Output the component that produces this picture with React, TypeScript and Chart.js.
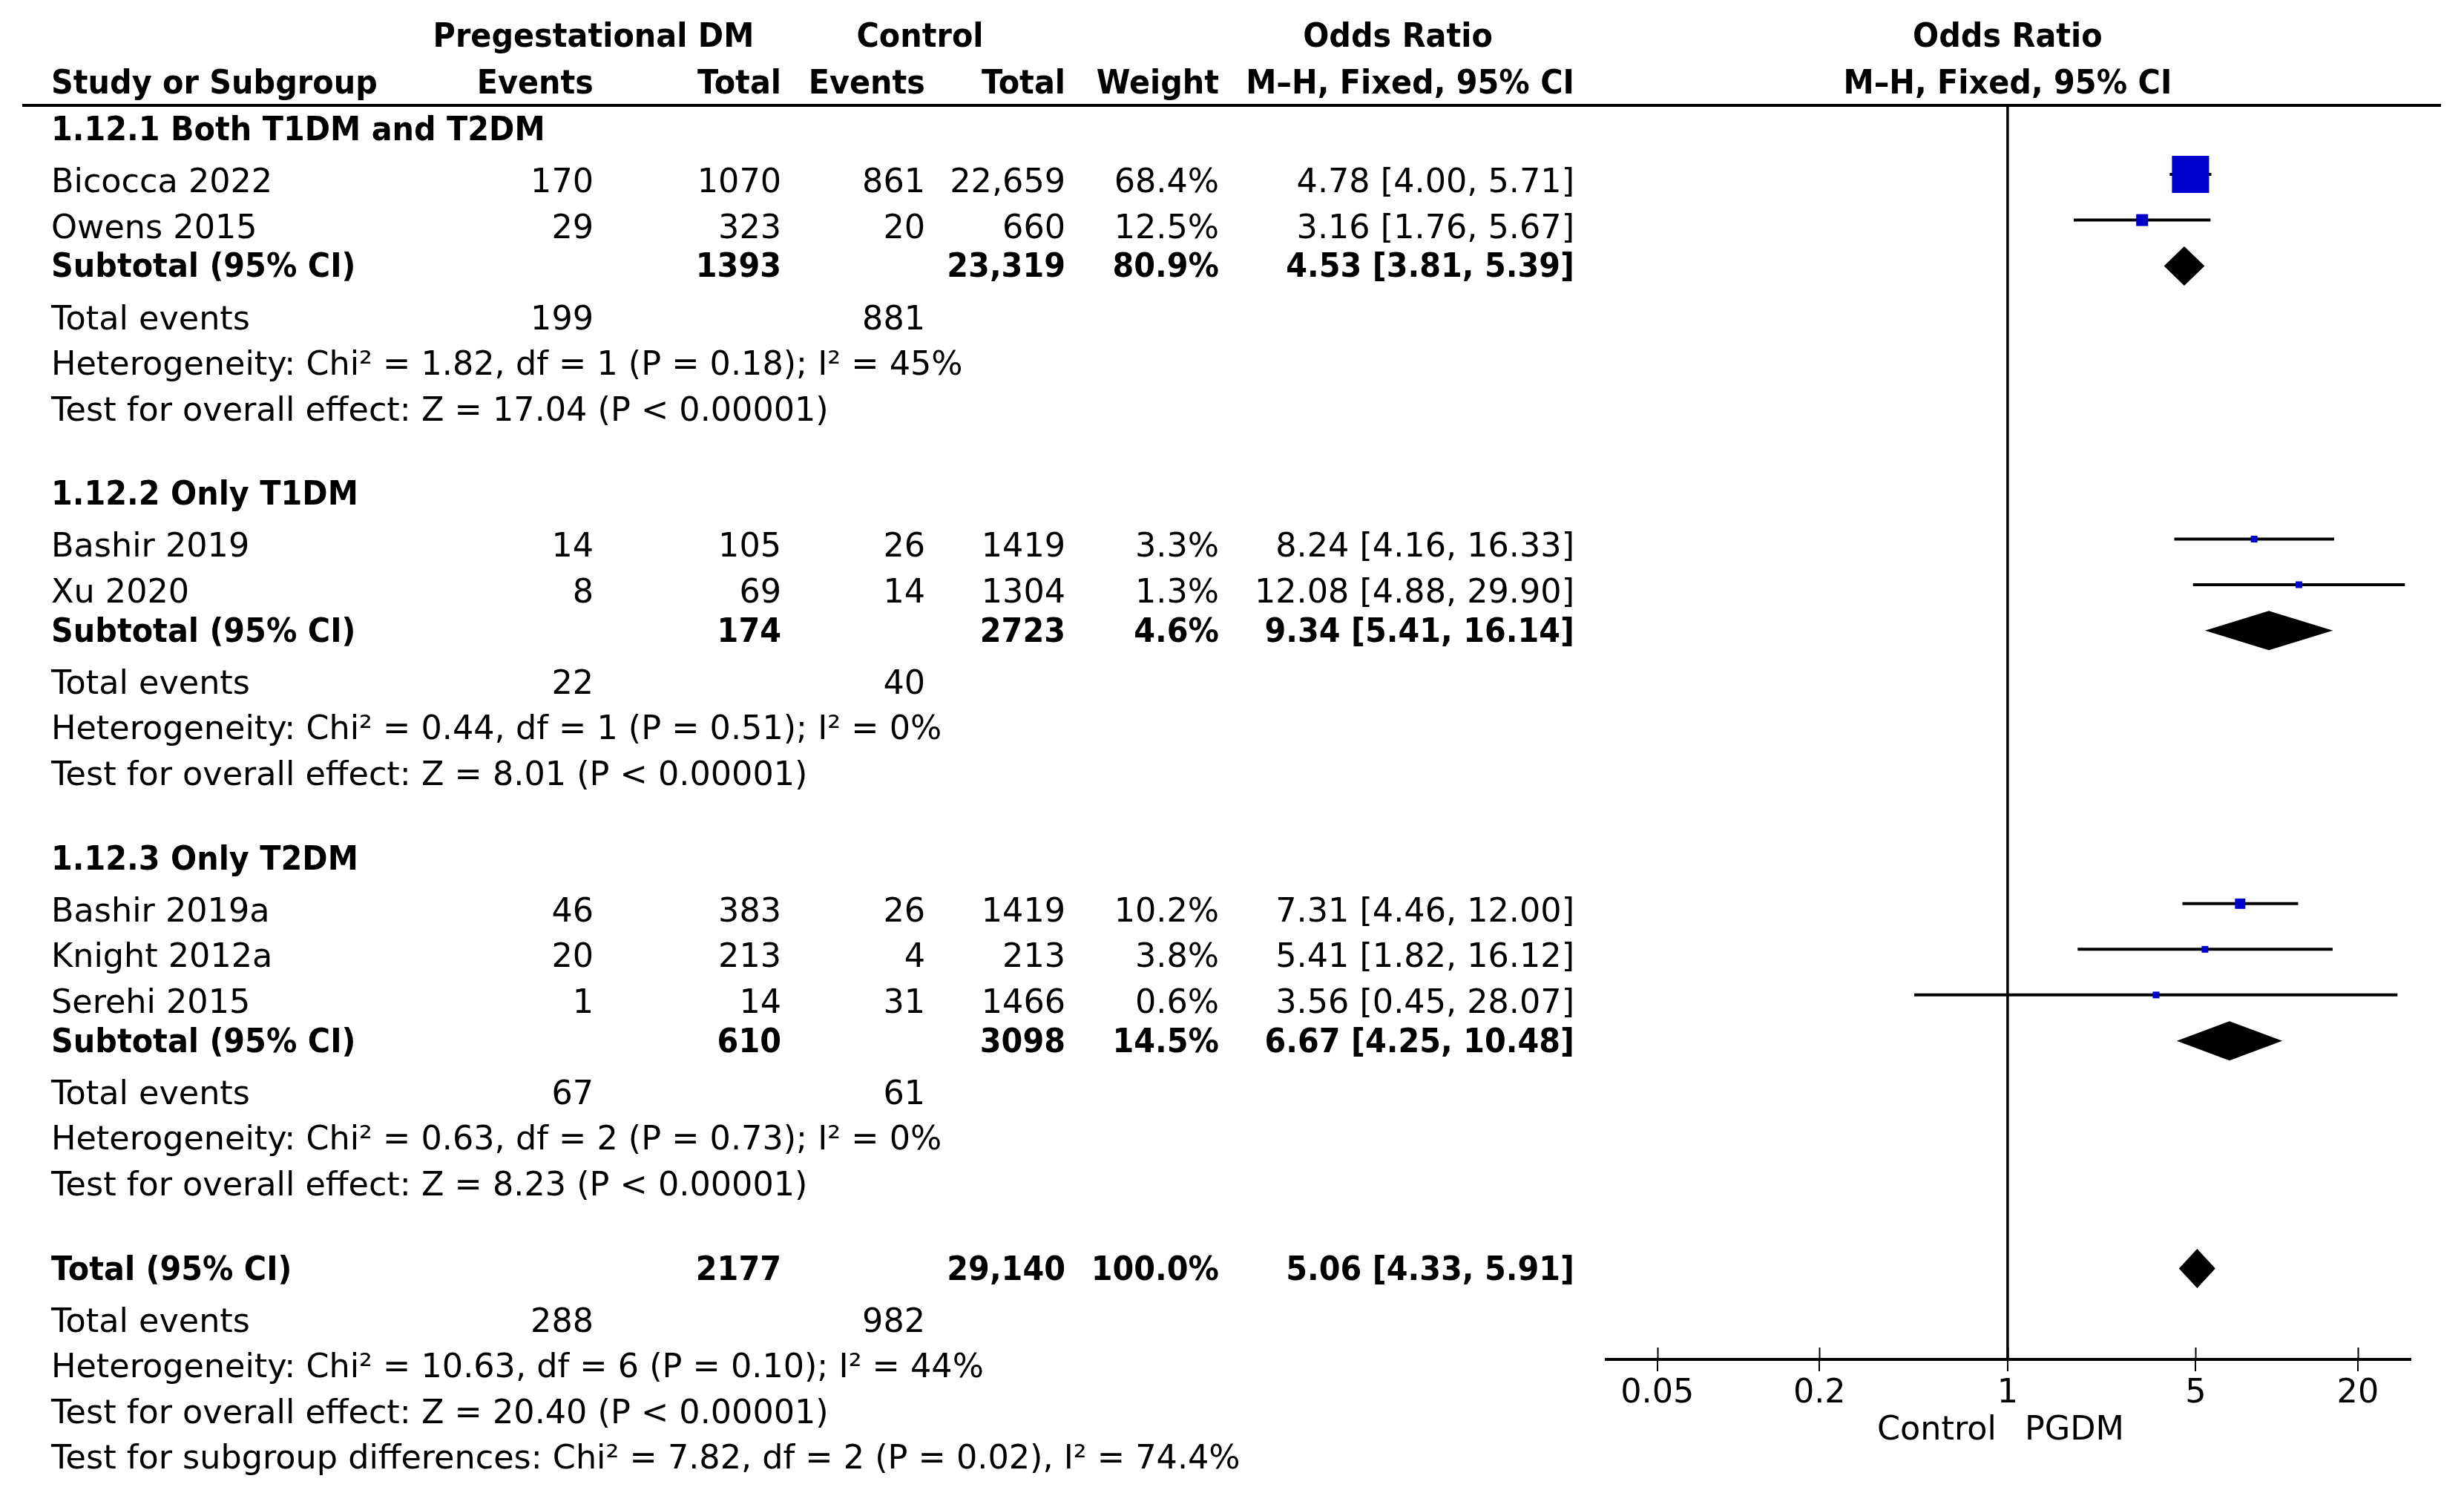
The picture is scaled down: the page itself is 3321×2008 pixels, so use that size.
import React, { useEffect, useRef } from "react";
import { Chart, registerables } from "chart.js";

Chart.register(...registerables);

// ---------------- data ----------------
const groupNames = ["1.12.1 Both T1DM and T2DM", "1.12.2 Only T1DM", "1.12.3 Only T2DM"];

const studyNames = ["Bicocca 2022", "Owens 2015", "Bashir 2019", "Xu 2020", "Bashir 2019a", "Knight 2012a", "Serehi 2015"];
const studyGroup = [0, 0, 1, 1, 2, 2, 2];
const pgdmEvents = [170, 29, 14, 8, 46, 20, 1];
const pgdmTotal = [1070, 323, 105, 69, 383, 213, 14];
const ctrlEvents = [861, 20, 26, 14, 26, 4, 31];
const ctrlTotal = [22659, 660, 1419, 1304, 1419, 213, 1466];
const studyWeight = [68.4, 12.5, 3.3, 1.3, 10.2, 3.8, 0.6];
const studyOR = [4.78, 3.16, 8.24, 12.08, 7.31, 5.41, 3.56];
const studyLo = [4.0, 1.76, 4.16, 4.88, 4.46, 1.82, 0.45];
const studyHi = [5.71, 5.67, 16.33, 29.9, 12.0, 16.12, 28.07];

const subPgdmTotal = [1393, 174, 610];
const subCtrlTotal = [23319, 2723, 3098];
const subWeight = [80.9, 4.6, 14.5];
const subOR = [4.53, 9.34, 6.67];
const subLo = [3.81, 5.41, 4.25];
const subHi = [5.39, 16.14, 10.48];
const subPgdmEvents = [199, 22, 67];
const subCtrlEvents = [881, 40, 61];
const subHet = [
  "Heterogeneity: Chi² = 1.82, df = 1 (P = 0.18); I² = 45%",
  "Heterogeneity: Chi² = 0.44, df = 1 (P = 0.51); I² = 0%",
  "Heterogeneity: Chi² = 0.63, df = 2 (P = 0.73); I² = 0%",
];
const subTest = [
  "Test for overall effect: Z = 17.04 (P < 0.00001)",
  "Test for overall effect: Z = 8.01 (P < 0.00001)",
  "Test for overall effect: Z = 8.23 (P < 0.00001)",
];

const totalPgdm = 2177;
const totalCtrl = 29140;
const totalWeight = 100.0;
const totalOR = 5.06;
const totalLo = 4.33;
const totalHi = 5.91;
const totalPgdmEvents = 288;
const totalCtrlEvents = 982;
const totalHet = "Heterogeneity: Chi² = 10.63, df = 6 (P = 0.10); I² = 44%";
const totalTest = "Test for overall effect: Z = 20.40 (P < 0.00001)";
const subgroupTest = "Test for subgroup differences: Chi² = 7.82, df = 2 (P = 0.02), I² = 74.4%";

const xTicks = [0.05, 0.2, 1, 5, 20];
const AXIS_MIN = 0.0323;
const AXIS_MAX = 31.4;

// ---------------- layout ----------------
const FONT = "'DejaVu Sans', sans-serif";
const FS = 44.5;
const BOLD_SX = 0.93;
const W = 3321;
const H = 2008;
const TOP = 142;
const BOTTOM = 1832;
const PLOT_LEFT = 2165;
const PLOT_RIGHT = 3249;
const Y_MAX = 27.48;
const PX_PER_UNIT = (BOTTOM - TOP) / Y_MAX;
const SQ_OFF = 24 / PX_PER_UNIT;
const DIA_OFF = 15 / PX_PER_UNIT;

const COL_NAME = 69;
const COL_EV1 = 800;
const COL_TOT1 = 1053;
const COL_EV2 = 1247;
const COL_TOT2 = 1436;
const COL_WT = 1643;
const COL_OR = 2122;

type Row = { kind: string; idx: number; pos: number };

function gapBetween(prev: string, cur: string): number {
  if (cur === "study") return prev === "group" ? 1.14 : 1;
  if (cur === "subtotal") return 0.86;
  if (cur === "events") return 1.14;
  if (cur === "group" || cur === "total") return 1.85;
  return 1;
}

function buildRows(): Row[] {
  const list: { kind: string; idx: number }[] = [];
  groupNames.forEach((_, g) => {
    list.push({ kind: "group", idx: g });
    studyNames.forEach((_, i) => {
      if (studyGroup[i] === g) list.push({ kind: "study", idx: i });
    });
    list.push({ kind: "subtotal", idx: g });
    list.push({ kind: "events", idx: g });
    list.push({ kind: "het", idx: g });
    list.push({ kind: "test", idx: g });
  });
  list.push({ kind: "total", idx: -1 });
  list.push({ kind: "events", idx: -1 });
  list.push({ kind: "het", idx: -1 });
  list.push({ kind: "test", idx: -1 });
  list.push({ kind: "subgroup", idx: -1 });
  const rows: Row[] = [];
  let pos = 0.764;
  list.forEach((r, k) => {
    if (k > 0) pos += gapBetween(list[k - 1].kind, r.kind);
    rows.push({ ...r, pos });
  });
  return rows;
}

const ROWS = buildRows();

const fmtN = (n: number) => (n >= 10000 ? n.toLocaleString("en-US") : String(n));
const fmtOR = (e: number, l: number, h: number) => `${e.toFixed(2)} [${l.toFixed(2)}, ${h.toFixed(2)}]`;
const fmtW = (w: number) => `${w.toFixed(1)}%`;
const squareSide = (w: number) => Math.max(9, 2.95 * Math.pow(w, 0.67));

function txt(ctx: CanvasRenderingContext2D, s: string, x: number, y: number, align: CanvasTextAlign, bold = false) {
  ctx.save();
  ctx.font = `${bold ? "bold " : ""}${FS}px ${FONT}`;
  ctx.textAlign = align;
  ctx.textBaseline = "alphabetic";
  ctx.fillStyle = "#000";
  ctx.translate(x, y);
  if (bold) ctx.scale(BOLD_SX, 1);
  ctx.fillText(s, 0, 0);
  ctx.restore();
}

const forestPlugin = {
  id: "forestPlugin",
  beforeDatasetsDraw(chart: any) {
    const { ctx, chartArea, scales } = chart;
    const x1 = scales.x.getPixelForValue(1);
    ctx.save();
    ctx.strokeStyle = "#000";
    ctx.lineWidth = 3.5;
    ctx.beginPath();
    ctx.moveTo(x1, chartArea.top);
    ctx.lineTo(x1, chartArea.bottom);
    ctx.stroke();
    ctx.restore();
  },
  afterDatasetsDraw(chart: any) {
    const { ctx, scales } = chart;
    const xs = scales.x;
    const ys = scales.y;
    const diamond = (e: number, l: number, h: number, pos: number) => {
      const y = ys.getPixelForValue(pos - DIA_OFF);
      const hh = 26.5;
      ctx.beginPath();
      ctx.moveTo(xs.getPixelForValue(l), y);
      ctx.lineTo(xs.getPixelForValue(e), y - hh);
      ctx.lineTo(xs.getPixelForValue(h), y);
      ctx.lineTo(xs.getPixelForValue(e), y + hh);
      ctx.closePath();
      ctx.fill();
    };
    ctx.save();
    ctx.fillStyle = "#000";
    ROWS.forEach((r) => {
      if (r.kind === "subtotal") diamond(subOR[r.idx], subLo[r.idx], subHi[r.idx], r.pos);
      if (r.kind === "total") diamond(totalOR, totalLo, totalHi, r.pos);
    });
    ctx.restore();
  },
  afterDraw(chart: any) {
    const { ctx, chartArea, scales } = chart;
    const ys = scales.y;
    const xs = scales.x;
    ctx.save();
    // header rule
    ctx.strokeStyle = "#000";
    ctx.lineWidth = 4;
    ctx.beginPath();
    ctx.moveTo(30, TOP);
    ctx.lineTo(3290, TOP);
    ctx.stroke();
    // upper halves of tick marks
    ctx.lineWidth = 2;
    xTicks.forEach((v) => {
      const px = Math.round(xs.getPixelForValue(v)) + 0.5;
      ctx.beginPath();
      ctx.moveTo(px, chartArea.bottom - 16);
      ctx.lineTo(px, chartArea.bottom);
      ctx.stroke();
    });
    // headers
    const x1 = xs.getPixelForValue(1);
    txt(ctx, "Pregestational DM", 800, 63, "center", true);
    txt(ctx, "Control", 1240, 63, "center", true);
    txt(ctx, "Odds Ratio", 1884, 63, "center", true);
    txt(ctx, "Odds Ratio", x1, 63, "center", true);
    txt(ctx, "Study or Subgroup", COL_NAME, 126, "left", true);
    txt(ctx, "Events", COL_EV1, 126, "right", true);
    txt(ctx, "Total", COL_TOT1, 126, "right", true);
    txt(ctx, "Events", COL_EV2, 126, "right", true);
    txt(ctx, "Total", COL_TOT2, 126, "right", true);
    txt(ctx, "Weight", COL_WT, 126, "right", true);
    txt(ctx, "M–H, Fixed, 95% CI", COL_OR, 126, "right", true);
    txt(ctx, "M–H, Fixed, 95% CI", x1, 126, "center", true);
    // rows
    ROWS.forEach((r) => {
      const y = ys.getPixelForValue(r.pos);
      const i = r.idx;
      switch (r.kind) {
        case "group":
          txt(ctx, groupNames[i], COL_NAME, y, "left", true);
          break;
        case "study":
          txt(ctx, studyNames[i], COL_NAME, y, "left");
          txt(ctx, fmtN(pgdmEvents[i]), COL_EV1, y, "right");
          txt(ctx, fmtN(pgdmTotal[i]), COL_TOT1, y, "right");
          txt(ctx, fmtN(ctrlEvents[i]), COL_EV2, y, "right");
          txt(ctx, fmtN(ctrlTotal[i]), COL_TOT2, y, "right");
          txt(ctx, fmtW(studyWeight[i]), COL_WT, y, "right");
          txt(ctx, fmtOR(studyOR[i], studyLo[i], studyHi[i]), COL_OR, y, "right");
          break;
        case "subtotal":
          txt(ctx, "Subtotal (95% CI)", COL_NAME, y, "left", true);
          txt(ctx, fmtN(subPgdmTotal[i]), COL_TOT1, y, "right", true);
          txt(ctx, fmtN(subCtrlTotal[i]), COL_TOT2, y, "right", true);
          txt(ctx, fmtW(subWeight[i]), COL_WT, y, "right", true);
          txt(ctx, fmtOR(subOR[i], subLo[i], subHi[i]), COL_OR, y, "right", true);
          break;
        case "total":
          txt(ctx, "Total (95% CI)", COL_NAME, y, "left", true);
          txt(ctx, fmtN(totalPgdm), COL_TOT1, y, "right", true);
          txt(ctx, fmtN(totalCtrl), COL_TOT2, y, "right", true);
          txt(ctx, fmtW(totalWeight), COL_WT, y, "right", true);
          txt(ctx, fmtOR(totalOR, totalLo, totalHi), COL_OR, y, "right", true);
          break;
        case "events":
          txt(ctx, "Total events", COL_NAME, y, "left");
          txt(ctx, fmtN(i >= 0 ? subPgdmEvents[i] : totalPgdmEvents), COL_EV1, y, "right");
          txt(ctx, fmtN(i >= 0 ? subCtrlEvents[i] : totalCtrlEvents), COL_EV2, y, "right");
          break;
        case "het":
          txt(ctx, i >= 0 ? subHet[i] : totalHet, COL_NAME, y, "left");
          break;
        case "test":
          txt(ctx, i >= 0 ? subTest[i] : totalTest, COL_NAME, y, "left");
          break;
        case "subgroup":
          txt(ctx, subgroupTest, COL_NAME, y, "left");
          break;
      }
    });
    // axis captions
    txt(ctx, "Control", x1 - 15, 1940, "right");
    txt(ctx, "PGDM", x1 + 23, 1940, "left");
    ctx.restore();
  },
};

export default function App() {
  const canvasRef = useRef<HTMLCanvasElement | null>(null);

  useEffect(() => {
    document.body.style.margin = "0";
    const canvas = canvasRef.current;
    if (!canvas) return;

    const studyRows = ROWS.filter((r) => r.kind === "study");
    const posOf = (i: number) => (studyRows.find((r) => r.idx === i) as Row).pos - SQ_OFF;

    const ciSets = studyNames.map((_, i) => ({
      type: "line" as const,
      data: [
        { x: studyLo[i], y: posOf(i) },
        { x: studyHi[i], y: posOf(i) },
      ],
      showLine: true,
      borderColor: "#000",
      borderWidth: 4,
      pointRadius: 0,
      fill: false,
      order: 2,
    }));

    const squareSet = {
      type: "scatter" as const,
      data: studyNames.map((_, i) => ({ x: studyOR[i], y: posOf(i) })),
      pointStyle: "rect",
      pointRadius: studyWeight.map((w) => squareSide(w) / Math.SQRT2),
      pointBackgroundColor: "#0000CC",
      pointBorderWidth: 0,
      pointBorderColor: "#0000CC",
      order: 1,
    };

    const chart = new Chart(canvas, {
      type: "scatter",
      data: { datasets: [squareSet as any, ...(ciSets as any[])] },
      options: {
        responsive: false,
        maintainAspectRatio: false,
        animation: false,
        events: [],
        layout: { padding: { left: PLOT_LEFT, right: W - PLOT_RIGHT, top: TOP, bottom: 0 } },
        plugins: { legend: { display: false }, tooltip: { enabled: false }, title: { display: false } },
        scales: {
          x: {
            type: "logarithmic",
            position: "bottom",
            min: AXIS_MIN,
            max: AXIS_MAX,
            border: { display: true, color: "#000", width: 4 },
            grid: { display: true, drawOnChartArea: false, drawTicks: true, tickLength: 16, color: "#000", lineWidth: 2 },
            ticks: {
              color: "#000",
              font: { family: FONT, size: FS },
              padding: 4,
              autoSkip: false,
              maxRotation: 0,
              callback: (v: any) => String(v),
            },
            afterBuildTicks: (s: any) => {
              s.ticks = xTicks.map((value) => ({ value }));
            },
            afterFit: (s: any) => {
              s.height = H - BOTTOM;
            },
          },
          y: {
            type: "linear",
            display: false,
            reverse: true,
            min: 0,
            max: Y_MAX,
          },
        },
      },
      plugins: [forestPlugin as any],
    });
    return () => chart.destroy();
  }, []);

  return (
    <div style={{ width: W, height: H, background: "#fff" }}>
      <canvas ref={canvasRef} width={W} height={H} style={{ display: "block" }} />
    </div>
  );
}
